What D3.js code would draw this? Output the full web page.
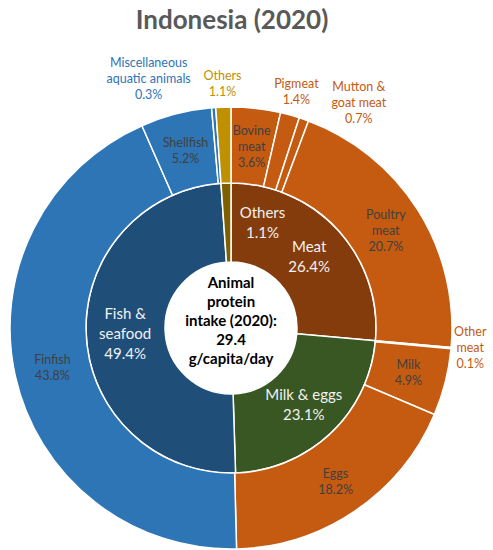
<!DOCTYPE html>
<html>
<head>
<meta charset="utf-8">
<script src="https://cdn.jsdelivr.net/npm/d3@7"></script>
<style>
  body { margin: 0; background: #fff; }
  svg { font-family: Lato, "Open Sans", sans-serif; }
</style>
</head>
<body>
<svg id="chart" width="493" height="550"></svg>
<script>
    // data
    var groupNames = ["Meat", "Milk & eggs", "Fish & seafood", "Others"];
    var groupValues = [26.4, 23.1, 49.4, 1.1];

    var itemNames = ["Bovine meat", "Pigmeat", "Mutton & goat meat", "Poultry meat", "Other meat",
                     "Milk", "Eggs", "Finfish", "Shellfish", "Miscellaneous aquatic animals", "Others"];
    var itemValues = [3.6, 1.4, 0.7, 20.7, 0.1, 4.9, 18.2, 43.8, 5.2, 0.3, 1.1];
    var itemGroup = [0, 0, 0, 0, 0, 1, 1, 2, 2, 2, 3];

    var totalText = ["Animal", "protein", "intake (2020):", "29.4", "g/capita/day"];

    // label lines (how the labels break in the picture)
    var groupLines = [["Meat"], ["Milk & eggs"], ["Fish &", "seafood"], ["Others"]];
    var itemLines = [["Bovine", "meat"], ["Pigmeat"], ["Mutton &", "goat meat"], ["Poultry", "meat"], ["Other", "meat"],
                     ["Milk"], ["Eggs"], ["Finfish"], ["Shellfish"], ["Miscellaneous", "aquatic animals"], ["Others"]];

    var svg = d3.select("#chart");
    var cx = 231, cy = 328;
    var rHole = 66, rMid = 145, rOuter = 221;

    var innerColor = ["#843C0C", "#385723", "#1F4E79", "#7F6000"];
    var outerColor = ["#C55A11", "#C55A11", "#2E75B6", "#BF9000"];
    var outsideColor = ["#C55A11", "#C55A11", "#2E75B6", "#BF9000"];

    svg.append("text")
        .attr("x", cx + 1).attr("y", 29)
        .attr("text-anchor", "middle")
        .attr("font-size", 26).attr("font-weight", "bold")
        .attr("fill", "#595959")
        .text("Indonesia (2020)");

    var g = svg.append("g").attr("transform", "translate(" + cx + "," + cy + ")");

    var pie = d3.pie().sort(null).value(d => d);
    var innerArcs = pie(groupValues);
    var outerArcs = pie(itemValues);

    var innerArc = d3.arc().innerRadius(rHole).outerRadius(rMid);
    var outerArc = d3.arc().innerRadius(rMid).outerRadius(rOuter);

    g.selectAll(".inner")
        .data(innerArcs)
        .enter().append("path")
        .attr("class", "inner")
        .attr("d", innerArc)
        .attr("fill", (d, i) => innerColor[i])
        .attr("stroke", "#fff").attr("stroke-width", 1.5);

    g.selectAll(".outer")
        .data(outerArcs)
        .enter().append("path")
        .attr("class", "outer")
        .attr("d", outerArc)
        .attr("fill", (d, i) => outerColor[itemGroup[i]])
        .attr("stroke", "#fff").attr("stroke-width", 1.5);

    // center text
    g.selectAll(".total")
        .data(totalText)
        .enter().append("text")
        .attr("class", "total")
        .attr("x", 0)
        .attr("y", (d, i) => -40 + i * 19)
        .attr("text-anchor", "middle")
        .attr("font-size", 15).attr("font-weight", "bold")
        .attr("fill", "#000")
        .text(d => d);

    function pctText(v) { return v.toFixed(1) + "%"; }

    // multi-line label centred on a point
    function addLabel(x, y, lines, size, gap, color) {
        var t = g.append("text")
            .attr("text-anchor", "middle")
            .attr("font-size", size)
            .attr("fill", color);
        var top = y - (lines.length - 1) * gap / 2 + size * 0.35;
        lines.forEach((l, i) => {
            t.append("tspan").attr("x", x).attr("y", top + i * gap).text(l);
        });
    }

    function polar(angle, r) {
        return [Math.sin(angle) * r, -Math.cos(angle) * r];
    }

    // inner ring labels; "Others" sits inside the meat slice in the original
    innerArcs.forEach((d, i) => {
        var mid = (d.startAngle + d.endAngle) / 2;
        var p = polar(mid, 106);
        if (groupNames[i] == "Others") p = polar(innerArcs[0].startAngle + 0.29, 110);
        addLabel(p[0], p[1], groupLines[i].concat([pctText(groupValues[i])]), 15, 20, "#F2F2F2");
    });

    // outer ring labels: wide slices inside, thin ones outside
    var nudge = {
        "Mutton & goat meat": [0.18, 14],
        "Miscellaneous aquatic animals": [-0.24, 18],
        "Other meat": [-0.01, -5]
    };
    outerArcs.forEach((d, i) => {
        var mid = (d.startAngle + d.endAngle) / 2;
        var lines = itemLines[i].concat([pctText(itemValues[i])]);
        if (itemValues[i] >= 3) {
            var r = itemNames[i] == "Eggs" ? 186 : 183;
            var p = polar(mid, r);
            addLabel(p[0], p[1], lines, 12.5, 16, "#404040");
        } else {
            var n = nudge[itemNames[i]] || [0, 0];
            var p = polar(mid + n[0], 245 + n[1]);
            addLabel(p[0], p[1], lines, 12.5, 16, outsideColor[itemGroup[i]]);
        }
    });
</script>
</body>
</html>
